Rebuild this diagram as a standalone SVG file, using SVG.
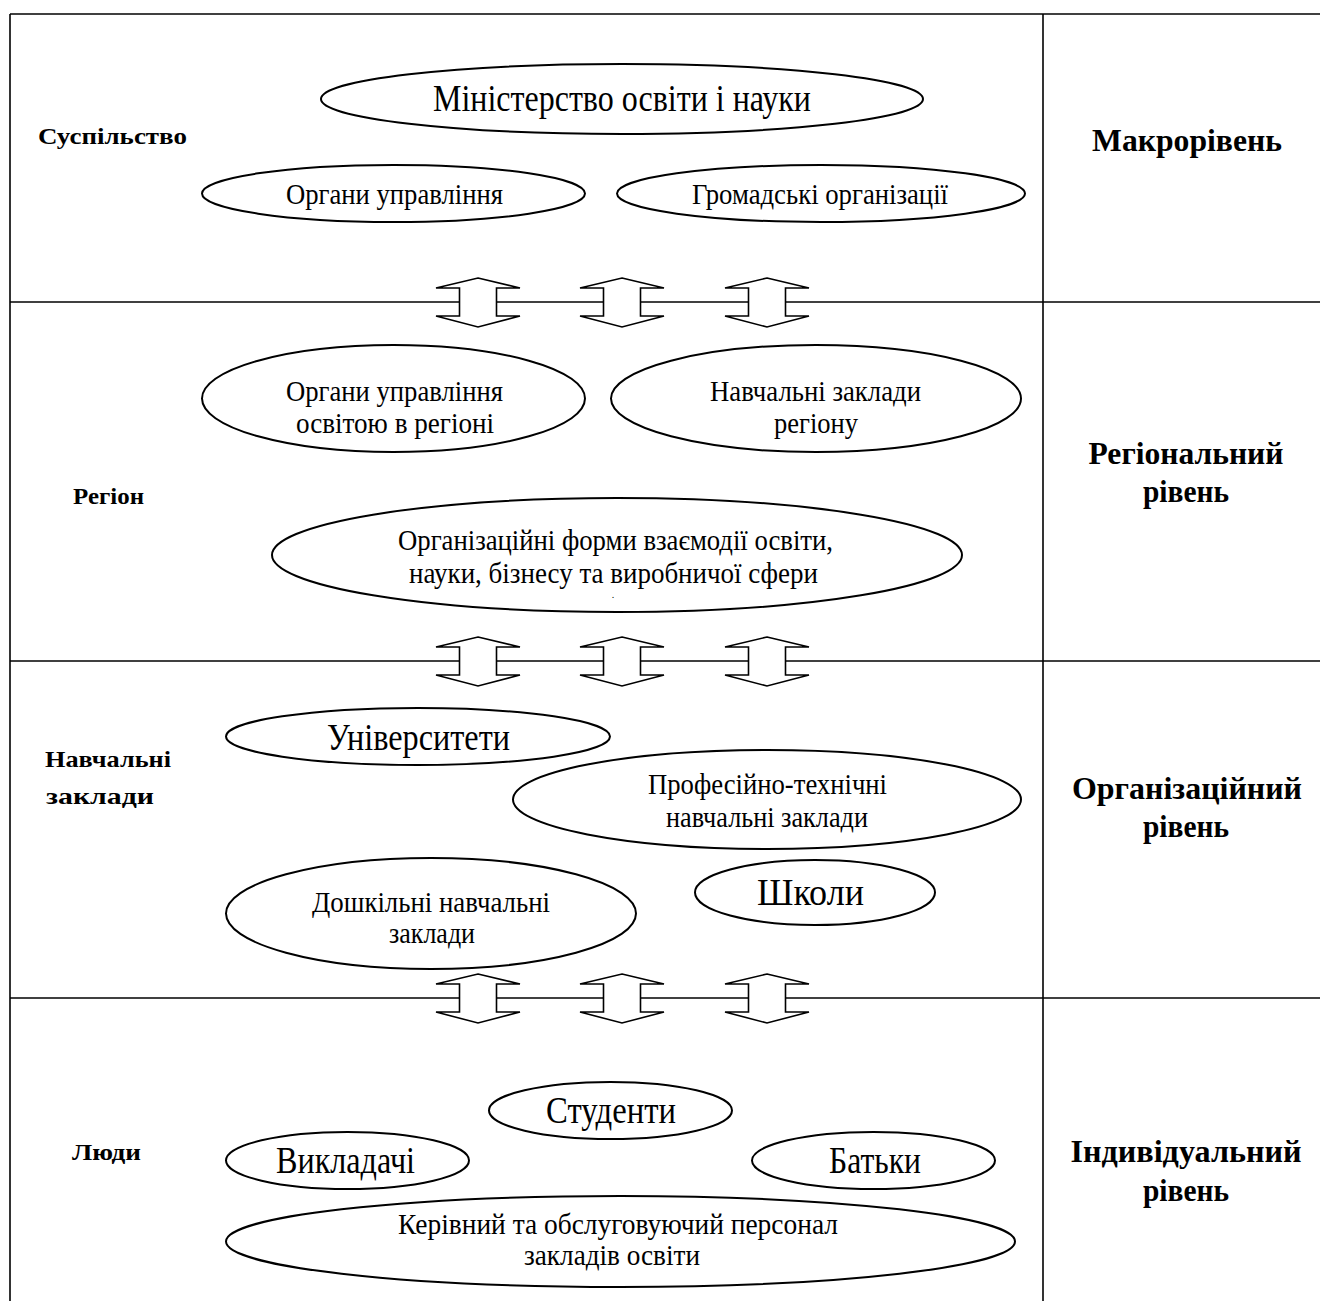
<svg xmlns="http://www.w3.org/2000/svg" width="1320" height="1301" viewBox="0 0 1320 1301">
<defs>
<style>
.frame{stroke:#000;stroke-width:1.6;fill:none}
.el{fill:#fff;stroke:#000;stroke-width:2}
.t{font-family:"Liberation Serif","Times New Roman",serif;fill:#000;text-anchor:middle}
.s{font-size:30px}
.b{font-size:37px}
.lb{font-family:"Liberation Serif","Times New Roman",serif;font-weight:bold;font-size:23px;fill:#000}
.rb{font-family:"Liberation Serif","Times New Roman",serif;font-weight:bold;font-size:32px;fill:#000;text-anchor:middle}
.arr{fill:#fff;stroke:#000;stroke-width:1.6;stroke-linejoin:miter}
</style>
<path id="dar" d="M0,-24 L42,-14 L18.5,-14 L18.5,14 L42,14 L0,25 L-42,14 L-18.5,14 L-18.5,-14 L-42,-14 Z"/>
</defs>
<rect width="1320" height="1301" fill="#fff"/>
<g id="frame" class="frame">
<line x1="10" y1="14" x2="1320" y2="14"/>
<line x1="10" y1="14" x2="10" y2="1301"/>
<line x1="1043" y1="14" x2="1043" y2="1301"/>
<line x1="10" y1="302" x2="1320" y2="302"/>
<line x1="10" y1="661" x2="1320" y2="661"/>
<line x1="10" y1="998" x2="1320" y2="998"/>
</g>
<g id="labels">
<text class="lb" x="38" y="144" textLength="149" lengthAdjust="spacingAndGlyphs">Суспільство</text>
<text class="lb" x="73" y="504" textLength="71" lengthAdjust="spacingAndGlyphs">Регіон</text>
<text class="lb" x="45" y="767" textLength="126" lengthAdjust="spacingAndGlyphs">Навчальні</text>
<text class="lb" x="46" y="804" textLength="108" lengthAdjust="spacingAndGlyphs">заклади</text>
<text class="lb" x="72" y="1160" textLength="69" lengthAdjust="spacingAndGlyphs">Люди</text>
<text class="rb" x="1187" y="151" textLength="190" lengthAdjust="spacingAndGlyphs">Макрорівень</text>
<text class="rb" x="1186" y="464" textLength="195" lengthAdjust="spacingAndGlyphs">Регіональний</text>
<text class="rb" x="1186" y="502" textLength="86" lengthAdjust="spacingAndGlyphs">рівень</text>
<text class="rb" x="1187" y="799" textLength="230" lengthAdjust="spacingAndGlyphs">Організаційний</text>
<text class="rb" x="1186" y="837" textLength="86" lengthAdjust="spacingAndGlyphs">рівень</text>
<text class="rb" x="1186" y="1162" textLength="231" lengthAdjust="spacingAndGlyphs">Індивідуальний</text>
<text class="rb" x="1186" y="1201" textLength="86" lengthAdjust="spacingAndGlyphs">рівень</text>
</g>
<g id="connectors">
<use href="#dar" class="arr" x="478" y="302"/>
<use href="#dar" class="arr" x="622" y="302"/>
<use href="#dar" class="arr" x="767" y="302"/>
<use href="#dar" class="arr" x="478" y="661"/>
<use href="#dar" class="arr" x="622" y="661"/>
<use href="#dar" class="arr" x="767" y="661"/>
<use href="#dar" class="arr" x="478" y="998"/>
<use href="#dar" class="arr" x="622" y="998"/>
<use href="#dar" class="arr" x="767" y="998"/>
</g>
<g id="n-ministry">
<ellipse class="el" cx="622" cy="99" rx="301" ry="35"/>
<text class="t b" x="622" y="111" textLength="378" lengthAdjust="spacingAndGlyphs">Міністерство освіти і науки</text>
</g>
<g id="n-organy">
<ellipse class="el" cx="393.5" cy="193.5" rx="191.5" ry="28.5"/>
<text class="t s" x="394.5" y="204" textLength="217" lengthAdjust="spacingAndGlyphs">Органи управління</text>
</g>
<g id="n-hromadski">
<ellipse class="el" cx="821" cy="193.5" rx="204" ry="28.5"/>
<text class="t s" x="820" y="204" textLength="256" lengthAdjust="spacingAndGlyphs">Громадські організації</text>
</g>
<g id="n-organy-region">
<ellipse class="el" cx="393.5" cy="398.5" rx="191.5" ry="53.5"/>
<text class="t s" x="394.5" y="401" textLength="217" lengthAdjust="spacingAndGlyphs">Органи управління</text>
<text class="t s" x="395" y="433" textLength="198" lengthAdjust="spacingAndGlyphs">освітою в регіоні</text>
</g>
<g id="n-navch-region">
<ellipse class="el" cx="816" cy="398.5" rx="205" ry="53.5"/>
<text class="t s" x="815.5" y="401" textLength="211" lengthAdjust="spacingAndGlyphs">Навчальні заклади</text>
<text class="t s" x="816" y="433" textLength="84" lengthAdjust="spacingAndGlyphs">регіону</text>
</g>
<g id="n-forms">
<ellipse class="el" cx="617" cy="555" rx="345" ry="57"/>
<text class="t s" x="615.5" y="550" textLength="435" lengthAdjust="spacingAndGlyphs">Організаційні форми взаємодії освіти,</text>
<text class="t s" x="613.5" y="583" textLength="409" lengthAdjust="spacingAndGlyphs">науки, бізнесу та виробничої сфери</text>
<text class="t" x="613" y="598" style="font-size:10px">.</text>
</g>
<g id="n-univ">
<ellipse class="el" cx="418" cy="736.5" rx="192" ry="28.5"/>
<text class="t b" x="418.5" y="750" textLength="183" lengthAdjust="spacingAndGlyphs">Університети</text>
</g>
<g id="n-prof">
<ellipse class="el" cx="767" cy="799.5" rx="254" ry="49.5"/>
<text class="t s" x="767.5" y="794" textLength="239" lengthAdjust="spacingAndGlyphs">Професійно-технічні</text>
<text class="t s" x="767" y="827" textLength="202" lengthAdjust="spacingAndGlyphs">навчальні заклади</text>
</g>
<g id="n-shkoly">
<ellipse class="el" cx="815" cy="892.5" rx="120" ry="32.5"/>
<text class="t b" x="810.5" y="905" textLength="107" lengthAdjust="spacingAndGlyphs">Школи</text>
</g>
<g id="n-doshk">
<ellipse class="el" cx="431" cy="913.5" rx="205" ry="55.5"/>
<text class="t s" x="431" y="912" textLength="238" lengthAdjust="spacingAndGlyphs">Дошкільні навчальні</text>
<text class="t s" x="432" y="943" textLength="86" lengthAdjust="spacingAndGlyphs">заклади</text>
</g>
<g id="n-students">
<ellipse class="el" cx="610.5" cy="1110.5" rx="121.5" ry="28.5"/>
<text class="t b" x="611" y="1123" textLength="130" lengthAdjust="spacingAndGlyphs">Студенти</text>
</g>
<g id="n-teachers">
<ellipse class="el" cx="347.5" cy="1160.5" rx="121.5" ry="28.5"/>
<text class="t b" x="345.5" y="1173" textLength="139" lengthAdjust="spacingAndGlyphs">Викладачі</text>
</g>
<g id="n-parents">
<ellipse class="el" cx="873.5" cy="1160.5" rx="121.5" ry="28.5"/>
<text class="t b" x="875" y="1173" textLength="92" lengthAdjust="spacingAndGlyphs">Батьки</text>
</g>
<g id="n-staff">
<ellipse class="el" cx="620.5" cy="1241.5" rx="394.5" ry="45.5"/>
<text class="t s" x="618" y="1234" textLength="440" lengthAdjust="spacingAndGlyphs">Керівний та обслуговуючий персонал</text>
<text class="t s" x="612" y="1265" textLength="176" lengthAdjust="spacingAndGlyphs">закладів освіти</text>
</g>
</svg>
